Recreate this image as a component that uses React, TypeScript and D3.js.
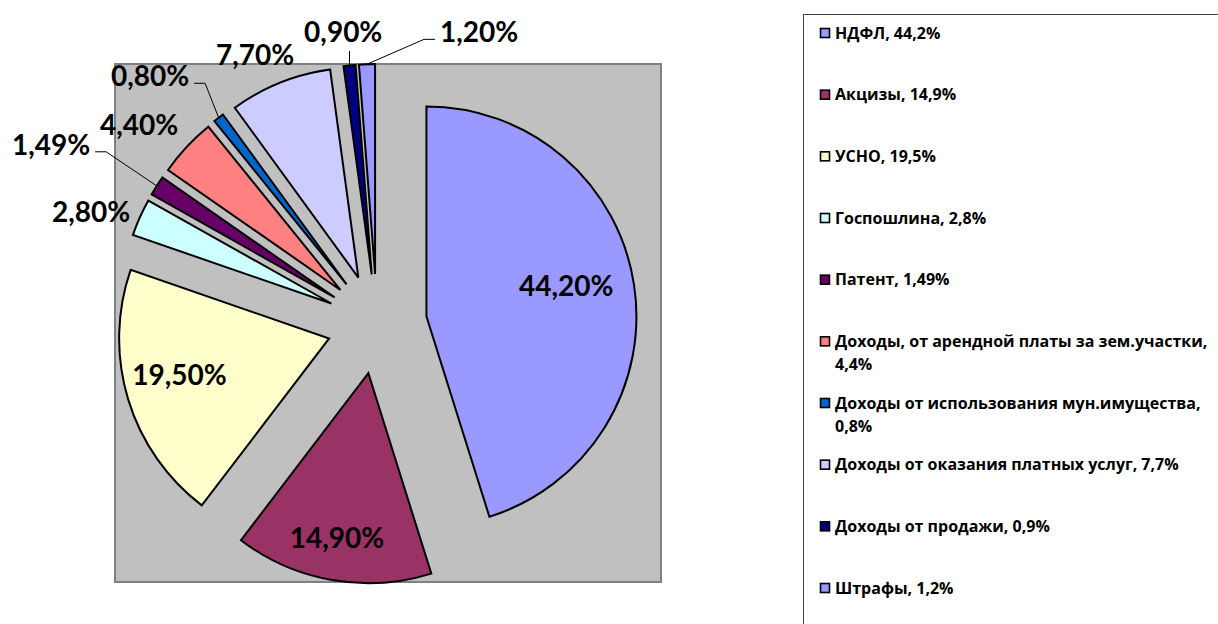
import { arc, pie, scalePoint } from 'd3'
import type { PieArcDatum } from 'd3'

const categories = [
  'НДФЛ',
  'Акцизы',
  'УСНО',
  'Госпошлина',
  'Патент',
  'Доходы, от арендной платы за зем.участки',
  'Доходы от использования мун.имущества',
  'Доходы от оказания платных услуг',
  'Доходы от продажи',
  'Штрафы',
]

const values = [44.2, 14.9, 19.5, 2.8, 1.49, 4.4, 0.8, 7.7, 0.9, 1.2]

const colors = [
  '#9999FF',
  '#993366',
  '#FFFFCC',
  '#CCFFFF',
  '#660066',
  '#FF8080',
  '#0066CC',
  '#CCCCFF',
  '#000080',
  '#9999FF',
]

// where the data labels sit (some were dragged by hand in the original):
// angle in degrees clockwise from 12 o'clock and distance from the pie centre
const labelAngles = [78.6, 190.6, 255.5, 291.4, 298.8, 309.9, 317.5, 335.6, 353.4, 19.3]
const labelDistances = [193, 218, 204, 307, 372, 310, 336, 295, 294, 309]
const labelLeaders = [false, false, false, false, true, false, true, false, true, true]

const width = 1218
const height = 624

const plot = { x: 115, y: 64, width: 546, height: 518 }
const center = { x: 377, y: 324 }
const radius = 210
const explode = 50

const labelFont = 'bold 28px Lato'
const legendFont = 'bold 16px "Open Sans"'

const legend = { x: 803, y: 14, markerX: 820, textX: 835, first: 33, last: 588, wrap: 385, lineHeight: 23 }

const canvas = typeof document !== 'undefined' ? document.createElement('canvas') : null
const ctx = canvas ? canvas.getContext('2d') : null

function textWidth(text: string, font: string) {
  if (!ctx) return text.length * 14
  ctx.font = font
  return ctx.measureText(text).width
}

function wrapText(text: string, maxWidth: number) {
  const words = text.split(' ')
  const lines: string[] = []
  let line = ''
  words.forEach((word) => {
    const next = line ? `${line} ${word}` : word
    if (line && textWidth(next, legendFont) > maxWidth) {
      lines.push(line)
      line = word
    } else {
      line = next
    }
  })
  if (line) lines.push(line)
  return lines
}

function dir(angle: number) {
  return { x: Math.sin(angle), y: -Math.cos(angle) }
}

function App() {
  const pieGen = pie<number>().sort(null).value((d) => d)
  const arcs = pieGen(values)
  const arcGen = arc<PieArcDatum<number>>().innerRadius(0).outerRadius(radius)

  const legendY = scalePoint<number>()
    .domain(values.map((_, i) => i))
    .range([legend.first, legend.last])

  return (
    <div>
      <style>{'body{margin:0}'}</style>
      <svg width={width} height={height} style={{ display: 'block', fontFamily: 'Lato, sans-serif' }}>
        <rect x={0} y={0} width={width} height={height} fill="#ffffff" />

        <rect
          x={plot.x}
          y={plot.y}
          width={plot.width}
          height={plot.height}
          fill="#C0C0C0"
          stroke="#808080"
          strokeWidth={2}
        />

        {arcs.map((a, i) => {
          const mid = (a.startAngle + a.endAngle) / 2
          const u = dir(mid)
          const tx = center.x + u.x * explode
          const ty = center.y + u.y * explode
          return (
            <path
              key={categories[i]}
              d={arcGen(a) ?? ''}
              transform={`translate(${tx}, ${ty})`}
              fill={colors[i]}
              stroke="#000000"
              strokeWidth={2}
              strokeLinejoin="miter"
            />
          )
        })}

        {arcs.map((a, i) => {
          if (!labelLeaders[i]) return null
          const mid = (a.startAngle + a.endAngle) / 2
          const u = dir(mid)
          const px = center.x + u.x * (explode + radius)
          const py = center.y + u.y * (explode + radius)
          const lu = dir((labelAngles[i] * Math.PI) / 180)
          const lx = center.x + lu.x * labelDistances[i]
          const ly = center.y + lu.y * labelDistances[i]
          const w = textWidth(`${values[i].toFixed(2).replace('.', ',')}%`, labelFont)
          let d = ''
          if (Math.abs(px - lx) < w / 2) {
            d = `M${px},${ly + 19}L${px},${py}`
          } else {
            const side = px > lx ? 1 : -1
            const x0 = lx + side * (w / 2 + 5)
            const y0 = ly + 7
            d = `M${x0},${y0}H${x0 + side * 11}L${px},${py}`
          }
          return <path key={`${categories[i]}-leader`} d={d} fill="none" stroke="#000000" strokeWidth={1} />
        })}

        {arcs.map((a, i) => {
          const lu = dir((labelAngles[i] * Math.PI) / 180)
          const lx = center.x + lu.x * labelDistances[i]
          const ly = center.y + lu.y * labelDistances[i]
          return (
            <text
              key={`${categories[i]}-label`}
              x={lx}
              y={ly + 10}
              textAnchor="middle"
              fontSize={28}
              fontWeight="bold"
              fill="#000000"
            >
              {`${a.data.toFixed(2).replace('.', ',')}%`}
            </text>
          )
        })}

        <rect
          x={legend.x + 0.5}
          y={legend.y + 0.5}
          width={600}
          height={700}
          fill="#ffffff"
          stroke="#404040"
          strokeWidth={1}
        />

        {categories.map((name, i) => {
          const y = legendY(i) ?? 0
          const lines = wrapText(`${name}, ${String(values[i]).replace('.', ',')}%`, legend.wrap)
          return (
            <g key={`${name}-legend`}>
              <rect
                x={legend.markerX + 0.5}
                y={y - 4.5}
                width={9}
                height={9}
                fill={colors[i]}
                stroke="#000000"
                strokeWidth={1.6}
              />
              <text
                x={legend.textX}
                y={y + 5.5}
                fontFamily='"Open Sans", sans-serif'
                fontSize={16}
                fontWeight="bold"
                fill="#000000"
              >
                {lines.map((line, j) => (
                  <tspan key={j} x={legend.textX} dy={j === 0 ? 0 : legend.lineHeight}>
                    {line}
                  </tspan>
                ))}
              </text>
            </g>
          )
        })}
      </svg>
    </div>
  )
}

export default App
